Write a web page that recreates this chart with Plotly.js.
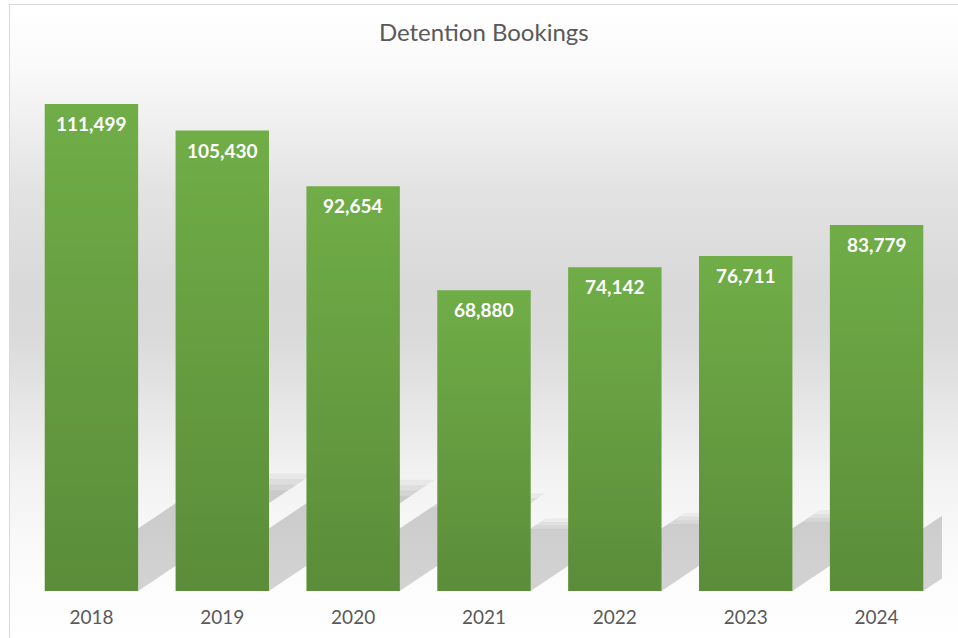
<!DOCTYPE html>
<html>
<head>
<meta charset="utf-8">
<script src="https://cdn.plot.ly/plotly-3.0.1.min.js"></script>
<style>
  html, body { margin: 0; padding: 0; background: #ffffff; }
  #wrap { position: relative; width: 958px; height: 638px; overflow: hidden; }
  #frame {
    position: absolute; left: 9px; top: 4px; width: 970px; height: 660px;
    border-left: 1px solid #d9d9d9; border-top: 1px solid #d9d9d9;
    background: linear-gradient(to bottom, #ffffff 0px, #fafafa 60px, #e2e2e2 190px, #d9d9d9 280px, #dadada 330px, #e6e6e6 400px, #f2f2f2 470px, #fbfbfb 560px, #ffffff 640px);
  }
  #chart { position: absolute; left: 0; top: 0; width: 958px; height: 638px; }
</style>
</head>
<body>
<div id="wrap"><div id="frame"></div><div id="chart"></div></div>
<script>
// ---- data ----
const years = [2018, 2019, 2020, 2021, 2022, 2023, 2024];
const bookings = [111499, 105430, 92654, 68880, 74142, 76711, 83779];
const labels = bookings.map(v => v.toLocaleString('en-US'));
const chartTitle = 'Detention Bookings';

// ---- styling constants ----
const barColor = '#70ad47';
const BAR_GAP = 0.286;
const halfBar = (1 - BAR_GAP) / 2;
const SHADOW_RISE = 0.23;        // shadow height as a fraction of bar value
const SHADOW_SHIFT = 1.145e-5;   // horizontal shadow shift (years) per booking
const SHADOW_LAYERS = [1.05, 1.0, 0.95, 0.9];

const shadowShapes = [];
years.forEach((yr, i) => {
  const v = bookings[i];
  const x0 = yr - halfBar, x1 = yr + halfBar;
  SHADOW_LAYERS.forEach(s => {
    const dx = v * SHADOW_SHIFT * s, top = v * SHADOW_RISE * s;
    shadowShapes.push({
      type: 'path', xref: 'x', yref: 'y', layer: 'below',
      path: `M ${x0},0 L ${x1},0 L ${x1 + dx},${top} L ${x0 + dx},${top} Z`,
      fillcolor: 'rgba(0,0,0,0.045)', line: { width: 0 }
    });
  });
});

// vertical shading overlay for each bar (lighter top, darker bottom)
const shadeSvg = "<svg xmlns='http://www.w3.org/2000/svg' width='10' height='100' preserveAspectRatio='none'>" +
  "<defs><linearGradient id='g' x1='0' y1='0' x2='0' y2='1'>" +
  "<stop offset='0' stop-color='#000' stop-opacity='0'/>" +
  "<stop offset='1' stop-color='#000' stop-opacity='0.19'/>" +
  "</linearGradient></defs><rect width='10' height='100' fill='url(#g)'/></svg>";
const shadeSrc = 'data:image/svg+xml;charset=utf-8,' + encodeURIComponent(shadeSvg);
const barShades = years.map((yr, i) => ({
  source: shadeSrc, xref: 'x', yref: 'y',
  x: yr - halfBar, y: bookings[i], sizex: 2 * halfBar, sizey: bookings[i],
  xanchor: 'left', yanchor: 'top', sizing: 'stretch', layer: 'above'
}));

const labelAnnotations = years.map((yr, i) => ({
  x: yr, y: bookings[i], xref: 'x', yref: 'y',
  text: '<b>' + labels[i] + '</b>', showarrow: false,
  yanchor: 'top', yshift: -6,
  font: { family: 'Lato, sans-serif', size: 19, color: '#ffffff' }
}));

const trace = {
  type: 'bar', x: years, y: bookings,
  marker: { color: barColor, line: { width: 0 } },
  hoverinfo: 'x+y'
};

const layout = {
  width: 958, height: 638,
  margin: { l: 26, r: 15.5, t: 80, b: 47 },
  paper_bgcolor: 'rgba(0,0,0,0)', plot_bgcolor: 'rgba(0,0,0,0)',
  title: {
    text: chartTitle, x: 0.505, xanchor: 'center', y: 1 - 33 / 638, yanchor: 'middle', yref: 'container',
    font: { family: 'Lato, sans-serif', size: 24, color: '#595959' }
  },
  bargap: BAR_GAP,
  showlegend: false,
  xaxis: {
    type: 'linear', range: [years[0] - 0.5, years[years.length - 1] + 0.5],
    tickvals: years, ticktext: years.map(String),
    showgrid: false, zeroline: false, showline: false, ticks: '',
    ticklabelstandoff: 13,
    tickfont: { family: 'Lato, sans-serif', size: 19, color: '#595959' }
  },
  yaxis: {
    range: [0, 117000], showgrid: false, zeroline: false, showline: false,
    showticklabels: false, ticks: ''
  },
  shapes: shadowShapes,
  images: barShades,
  annotations: labelAnnotations
};

Plotly.newPlot('chart', [trace], layout, { displayModeBar: false, staticPlot: true });
</script>
</body>
</html>
